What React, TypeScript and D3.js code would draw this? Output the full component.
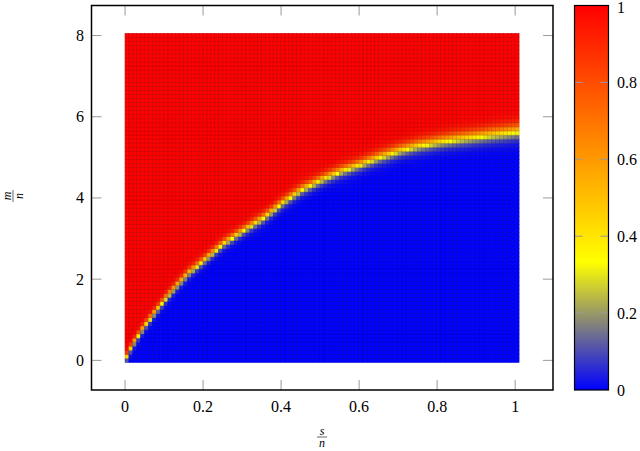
import React from "react";
import * as d3 from "d3";

// ---- data ----
const S_KNOTS = [0, 0.01, 0.02, 0.04, 0.07, 0.10, 0.125, 0.16, 0.2, 0.25, 0.3, 0.35, 0.4, 0.45, 0.5, 0.55, 0.6, 0.65, 0.7, 0.75, 0.8, 0.85, 0.9, 0.95, 1.0, 1.01];
const M_BOUNDARY = [0.08, 0.28, 0.45, 0.75, 1.15, 1.52, 1.8, 2.16, 2.47, 2.88, 3.2, 3.5, 3.88, 4.2, 4.44, 4.65, 4.82, 5.0, 5.16, 5.28, 5.37, 5.44, 5.5, 5.56, 5.62, 5.63];
const W_KNOTS = [0, 0.5, 1.01];
const W_VALUES = [0.05, 0.07, 0.1];
const S_STEPS = d3.range(0, 101).map((i) => i * 0.01);
const M_STEPS = d3.range(0, 81).map((j) => j * 0.1);
const X_TICKS = [0, 0.2, 0.4, 0.6, 0.8, 1];
const Y_TICKS = [0, 2, 4, 6, 8];
const C_TICKS = [0, 0.2, 0.4, 0.6, 0.8, 1];
const CMAP_STOPS = [0, 1 / 3, 2 / 3, 1];
const CMAP_COLORS = ["#0000ff", "#ffff00", "#ff8000", "#ff0000"];

const FONT = "Liberation Serif, Times New Roman, DejaVu Serif, serif";
const tstyle = { fontFamily: FONT };

export default function App() {
  const L = 91.5, R = 553, T = 5.5, B = 390;
  const x = d3.scaleLinear().domain([-0.086, 1.097]).range([L, R]);
  const y = d3.scaleLinear().domain([-0.73, 8.74]).range([B, T]);
  const cmap = d3.scaleLinear<string>().domain(CMAP_STOPS).range(CMAP_COLORS).interpolate(d3.interpolateRgb);
  const bnd = d3.scaleLinear().domain(S_KNOTS).range(M_BOUNDARY).clamp(true);
  const wid = d3.scaleLinear().domain(W_KNOTS).range(W_VALUES).clamp(true);
  const c0 = Math.log(0.36 / 0.64);

  const cells: React.ReactNode[] = [];
  const cw = x(0.01) - x(0);
  const ch = y(0) - y(0.1);
  S_STEPS.forEach((s, i) => {
    const b = bnd(s);
    const w = wid(s);
    M_STEPS.forEach((m, j) => {
      const p = 1 / (1 + Math.exp(-((m - b) / w + c0)));
      const col = cmap(p);
      const dark = d3.color(col)!.darker(0.6).toString();
      cells.push(
        <rect
          key={i + "_" + j}
          x={x(s)}
          y={y(m + 0.05)}
          width={cw}
          height={ch}
          fill={col}
          stroke={dark}
          strokeWidth={0.6}
        />
      );
    });
  });

  const cbL = 574.5, cbR = 608.5;
  const cy = d3.scaleLinear().domain([0, 1]).range([B, T]);
  const tickCol = "#9a9a9a";

  return (
    <svg width={640} height={451} style={{ position: "absolute", left: 0, top: 0, background: "#fff" }}>
      <defs>
        <linearGradient id="cbar" x1="0" y1="1" x2="0" y2="0">
          {CMAP_STOPS.map((s, k) => (
            <stop key={k} offset={s} stopColor={CMAP_COLORS[k]} />
          ))}
        </linearGradient>
      </defs>
      <rect x={0} y={0} width={640} height={451} fill="#fff" />
      <g>{cells}</g>
      {/* ticks */}
      {X_TICKS.map((t) => (
        <g key={"xt" + t}>
          <line x1={x(t)} x2={x(t)} y1={B} y2={B - 10} stroke={tickCol} strokeWidth={1} />
          <line x1={x(t)} x2={x(t)} y1={T} y2={T + 10} stroke={tickCol} strokeWidth={1} />
          <text x={x(t)} y={411.5} textAnchor="middle" fontSize={16} fill="#000" style={tstyle}>
            {t}
          </text>
        </g>
      ))}
      {Y_TICKS.map((t) => (
        <g key={"yt" + t}>
          <line x1={L} x2={L + 10} y1={y(t)} y2={y(t)} stroke={tickCol} strokeWidth={1} />
          <line x1={R} x2={R - 10} y1={y(t)} y2={y(t)} stroke={tickCol} strokeWidth={1} />
          <text x={84} y={y(t) + 5.5} textAnchor="end" fontSize={16} fill="#000" style={tstyle}>
            {t}
          </text>
        </g>
      ))}
      <rect x={L} y={T} width={R - L} height={B - T} fill="none" stroke="#000" strokeWidth={1.5} />
      {/* x title */}
      <g transform="translate(322,437)">
        <text x={0} y={-2.5} textAnchor="middle" fontSize={12} fontStyle="italic" style={tstyle}>s</text>
        <line x1={-5} x2={5} y1={0} y2={0} stroke="#000" strokeWidth={0.6} />
        <text x={0} y={9.5} textAnchor="middle" fontSize={12} fontStyle="italic" style={tstyle}>n</text>
      </g>
      {/* y title */}
      <g transform="translate(13,196) rotate(-90)">
        <text x={0} y={-2.5} textAnchor="middle" fontSize={12} fontStyle="italic" style={tstyle}>m</text>
        <line x1={-6} x2={6} y1={0} y2={0} stroke="#000" strokeWidth={0.6} />
        <text x={0} y={9.5} textAnchor="middle" fontSize={12} fontStyle="italic" style={tstyle}>n</text>
      </g>
      {/* colorbar */}
      <rect x={cbL} y={T} width={cbR - cbL} height={B - T} fill="url(#cbar)" />
      {C_TICKS.filter((t) => t > 0 && t < 1).map((t) => (
        <g key={"ct" + t}>
          <line x1={cbL} x2={cbL + 8} y1={cy(t)} y2={cy(t)} stroke={tickCol} strokeWidth={1} />
          <line x1={cbR} x2={cbR - 8} y1={cy(t)} y2={cy(t)} stroke={tickCol} strokeWidth={1} />
        </g>
      ))}
      {C_TICKS.map((t) => (
        <text key={"cl" + t} x={617} y={Math.max(cy(t) + 5.5, 13)} fontSize={16} fill="#000" style={tstyle}>
          {t}
        </text>
      ))}
      <rect x={cbL} y={T} width={cbR - cbL} height={B - T} fill="none" stroke="#000" strokeWidth={1.2} />
    </svg>
  );
}
